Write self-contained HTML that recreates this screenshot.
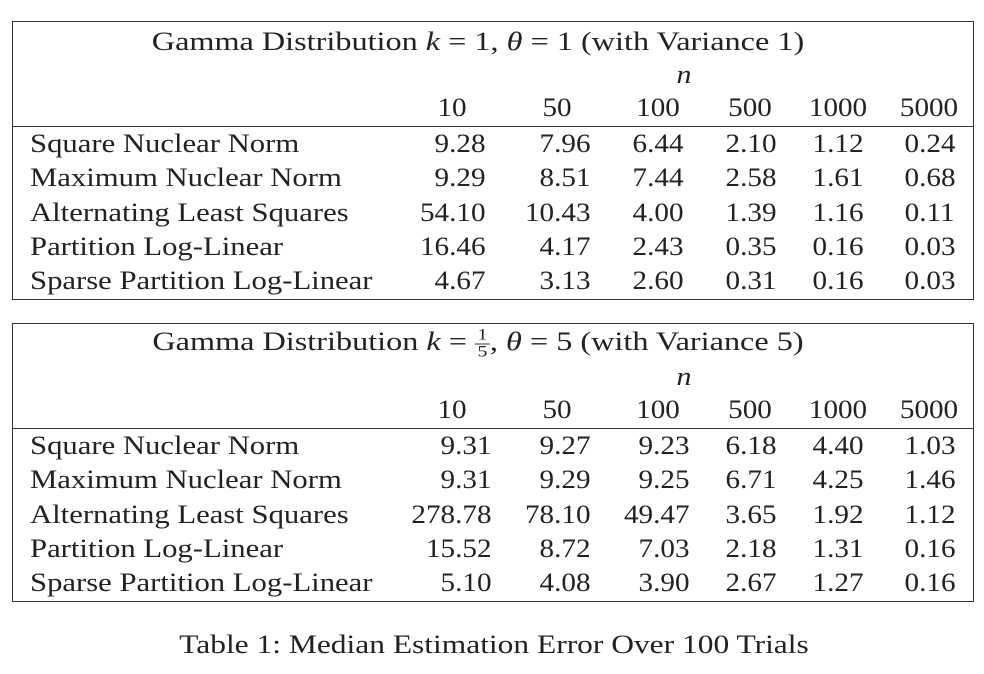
<!DOCTYPE html>
<html><head><meta charset="utf-8"><style>
body{margin:0;background:#fff;width:984px;height:674px;position:relative;overflow:hidden;font-family:"Liberation Serif",serif;color:#222;}
.t{position:absolute;font-size:26px;line-height:1;white-space:nowrap;}
.box{position:absolute;border:1.3px solid #333;box-sizing:border-box;}
.hl{position:absolute;height:1.3px;background:#333;}
i{font-style:italic}
.fr{display:inline-block;vertical-align:middle;text-align:center;font-size:16px;line-height:1}
.fr span{display:block;padding:0 2px}
.fr span:first-child{border-bottom:1px solid #333}
</style></head><body>
<div id="root"></div>
<div class="t" style="left:494px;top:645px;transform:translate(-50%,-50%) scaleX(1.21)">Table 1: Median Estimation Error Over 100 Trials</div>
<script>
const methods=["Square Nuclear Norm","Maximum Nuclear Norm","Alternating Least Squares","Partition Log-Linear","Sparse Partition Log-Linear"];
const ns=["10","50","100","500","1000","5000"];
const vals1=[["9.28","7.96","6.44","2.10","1.12","0.24"],["9.29","8.51","7.44","2.58","1.61","0.68"],["54.10","10.43","4.00","1.39","1.16","0.11"],["16.46","4.17","2.43","0.35","0.16","0.03"],["4.67","3.13","2.60","0.31","0.16","0.03"]];
const vals2=[["9.31","9.27","9.23","6.18","4.40","1.03"],["9.31","9.29","9.25","6.71","4.25","1.46"],["278.78","78.10","49.47","3.65","1.92","1.12"],["15.52","8.72","7.03","2.18","1.31","0.16"],["5.10","4.08","3.90","2.67","1.27","0.16"]];
const titles=['Gamma Distribution <i>k</i> = 1, <i>θ</i> = 1 (with Variance 1)','Gamma Distribution <i>k</i> = <span class="fr"><span>1</span><span>5</span></span>, <i>θ</i> = 5 (with Variance 5)'];
const root=document.getElementById('root');
const hc=[452,557,658,750,838,929];
const re1=[485,590,683,776,863,955], re2=[491,590,689,776,863,955];
function mk(cls,name,css,html){const d=document.createElement('div');d.className=cls;


d.style.cssText=css;if(html!==undefined)d.innerHTML=html;root.appendChild(d);return d;}
function table(top,vals,re,title,idx){
 mk('box','table-'+idx,`left:12px;top:${top}px;width:962px;height:279px`);
 mk('hl','header-rule-'+idx,`left:12px;width:962px;top:${top+105}px`);
 mk('t','table-title-'+idx,`left:478px;top:${top+21}px;transform:translate(-50%,-50%) scaleX(1.24)`,title);
 mk('t','n-label-'+idx,`left:684px;top:${top+54}px;transform:translate(-50%,-50%) scaleX(1.15)`,'<i>n</i>');
 ns.forEach((n,j)=>mk('t','col-header-'+n,`left:${hc[j]}px;top:${top+87}px;transform:translate(-50%,-50%) scaleX(1.12)`,n));
 methods.forEach((m,r)=>{const y=top+123+r*34.3;
  mk('t','row-label',`left:30px;top:${y}px;transform:translateY(-50%) scaleX(1.18);transform-origin:left center`,m);
  vals[r].forEach((v,j)=>mk('t','cell-value',`right:${984-re[j]}px;top:${y}px;transform:translateY(-50%) scaleX(1.12);transform-origin:right center`,v));});
}
table(21,vals1,re1,titles[0],1);
table(323,vals2,re2,titles[1],2);
</script>
</body></html>
